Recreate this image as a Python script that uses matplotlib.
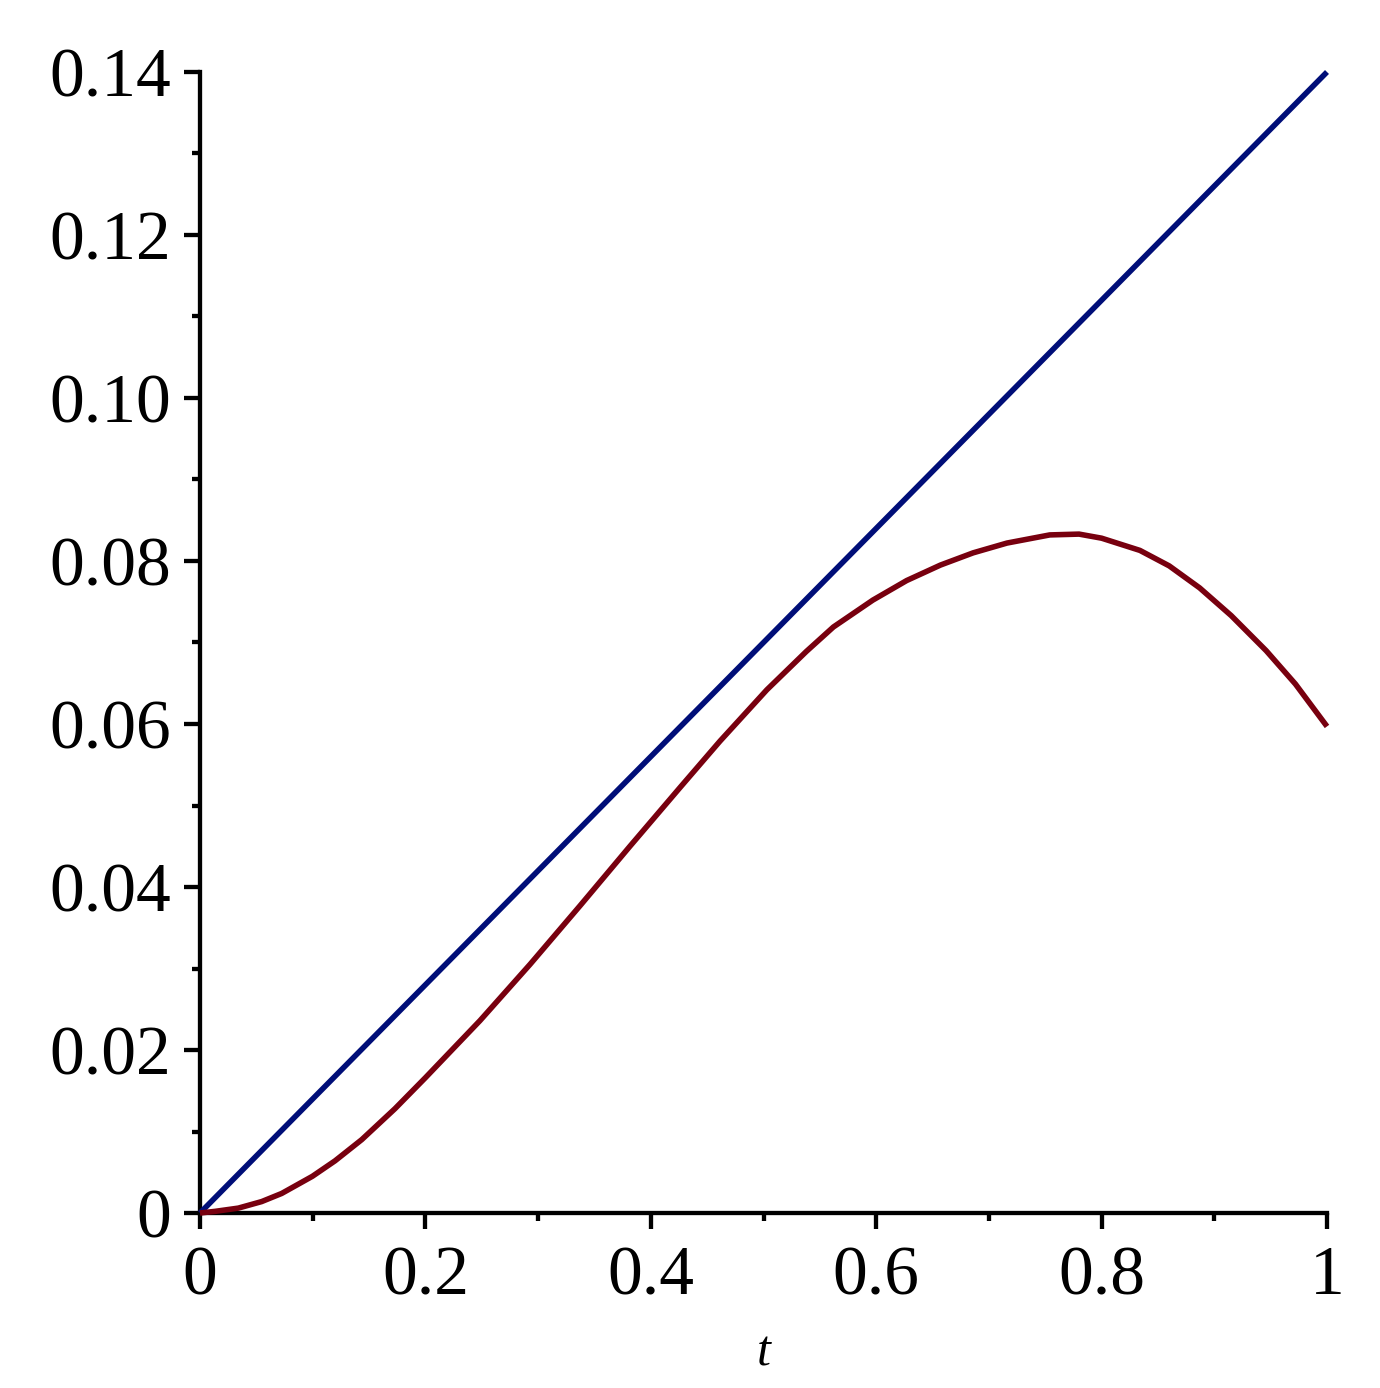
import matplotlib
matplotlib.use("Agg")
import matplotlib.pyplot as plt
from matplotlib.ticker import MultipleLocator, FixedLocator

# data
t_line = [0.0, 1.0]
v_line = [0.0, 0.14]

t_curve = [0.0, 0.0133, 0.034, 0.0547, 0.0725, 0.0997, 0.1198, 0.1435, 0.173, 0.2,
           0.2484, 0.2928, 0.3372, 0.3815, 0.4259, 0.4614, 0.503, 0.538, 0.562, 0.597,
           0.627, 0.657, 0.686, 0.716, 0.754, 0.78, 0.80, 0.834, 0.86, 0.887, 0.915,
           0.946, 0.972, 1.0]
v_curve = [0.0, 0.0002, 0.0006, 0.0014, 0.0024, 0.0045, 0.0064, 0.0090, 0.0128, 0.0166,
           0.0236, 0.0305, 0.0377, 0.0450, 0.0522, 0.0579, 0.0642, 0.0689, 0.0719, 0.0752,
           0.0776, 0.0795, 0.0810, 0.0822, 0.0832, 0.0833, 0.0828, 0.0813, 0.0794, 0.0767,
           0.0733, 0.0690, 0.0649, 0.0597]

x_ticks = [0, 0.2, 0.4, 0.6, 0.8, 1.0]
x_ticklabels = ["0", "0.2", "0.4", "0.6", "0.8", "1"]
y_ticks = [0, 0.02, 0.04, 0.06, 0.08, 0.10, 0.12, 0.14]
y_ticklabels = ["0", "0.02", "0.04", "0.06", "0.08", "0.10", "0.12", "0.14"]

plt.rcParams['font.family'] = ['Liberation Serif', 'DejaVu Serif']

fig = plt.figure(figsize=(13.8, 13.88), dpi=100)
ax = fig.add_axes([200/1380, 1 - 1213/1388, 1127/1380, 1141/1388])

ax.plot(t_line, v_line, color='#000e78', lw=4.0, solid_capstyle='butt',
        solid_joinstyle='round', clip_on=False, zorder=3)
ax.plot(t_curve, v_curve, color='#78000f', lw=4.0, solid_capstyle='butt',
        solid_joinstyle='round', clip_on=False, zorder=3)

ax.set_xlim(0, 1)
ax.set_ylim(0, 0.14)
ax.spines['top'].set_visible(False)
ax.spines['right'].set_visible(False)
for s in ('left', 'bottom'):
    ax.spines[s].set_linewidth(3.1)

ax.xaxis.set_major_locator(FixedLocator(x_ticks))
ax.set_xticklabels(x_ticklabels)
ax.yaxis.set_major_locator(FixedLocator(y_ticks))
ax.set_yticklabels(y_ticklabels)
ax.xaxis.set_minor_locator(MultipleLocator(0.1))
ax.yaxis.set_minor_locator(MultipleLocator(0.01))

ax.tick_params(which='major', direction='out', length=11.5, width=3.1, labelsize=50)
ax.tick_params(axis='y', which='major', pad=9)
ax.tick_params(axis='x', which='major', pad=12)
ax.tick_params(which='minor', direction='out', length=5.8, width=3.1)

ax.set_xlabel('t', fontsize=36, fontstyle='italic', labelpad=15)

fig.savefig('out.png', dpi=100, facecolor='white')
